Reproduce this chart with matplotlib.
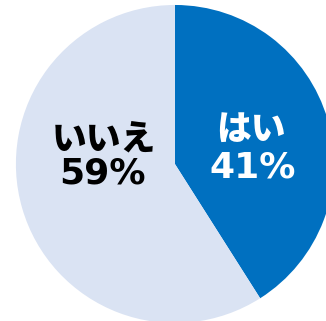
import matplotlib
matplotlib.use("Agg")
import matplotlib.pyplot as plt

labels = ["はい", "いいえ"]
values = [41, 59]
colors = ["#0070C0", "#DAE3F3"]
text_colors = ["white", "black"]

fig = plt.figure(figsize=(3.26, 3.21), dpi=100)
ax = fig.add_axes([0, 0, 1, 1])
ax.pie(values, colors=colors, startangle=90, counterclock=False, radius=1,
       wedgeprops=dict(linewidth=0))
ax.set_xlim(-1.10, 0.95)
ax.set_ylim(-0.987, 1.031)
ax.set_aspect('equal')
ax.axis('off')

label_pos = [(0.478, 0.22), (-0.447, 0.155)]
value_pos = [(0.491, -0.025), (-0.453, -0.06)]
for lab, v, lp, vp, tc in zip(labels, values, label_pos, value_pos, text_colors):
    ax.text(lp[0], lp[1], lab, ha='center', va='center', color=tc,
            fontsize=25, fontweight='heavy', family=['Noto Sans CJK JP', 'DejaVu Sans'])
    ax.text(vp[0], vp[1], f"{v}%", ha='center', va='center', color=tc,
            fontsize=26, fontweight='bold', family=['DejaVu Sans'])

fig.savefig("out.png", dpi=100)
